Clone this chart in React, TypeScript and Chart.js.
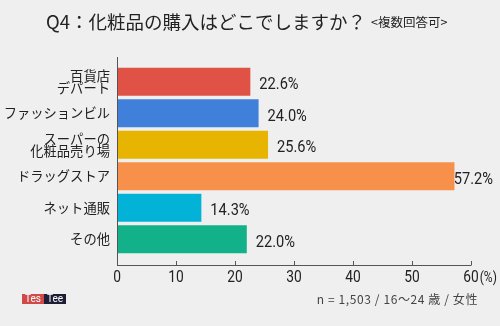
import React, { useEffect, useRef } from "react";
import { Chart, registerables } from "chart.js";

Chart.register(...registerables);

const categories: (string | string[])[] = [
  ["百貨店", "デパート"],
  "ファッションビル",
  ["スーパーの", "化粧品売り場"],
  "ドラッグストア",
  "ネット通販",
  "その他",
];
const values: number[] = [22.6, 24.0, 25.6, 57.2, 14.3, 22.0];
const barColors: string[] = ["#e05245", "#4080da", "#e8b402", "#f6904b", "#03b3d7", "#13b189"];
const xTicks: number[] = [0, 10, 20, 30, 40, 50, 60];
const titleMain = "Q4：化粧品の購入はどこでしますか？";
const titleSub = "<複数回答可>";
const footNote = "n = 1,503 / 16～24 歳 / 女性";

const JP = "'Noto Sans CJK JP', 'Noto Sans', sans-serif";
const NUM = "Roboto, 'Noto Sans', sans-serif";
const AXIS = "#555";

function condensedText(ctx: any, text: string, x: number, y: number, sx: number, align: string) {
  ctx.save();
  const w = ctx.measureText(text).width * sx;
  let left = x;
  if (align === "center") left = x - w / 2;
  else if (align === "right") left = x - w;
  ctx.translate(left, y);
  ctx.scale(sx, 1);
  ctx.textAlign = "left";
  ctx.fillText(text, 0, 0);
  ctx.restore();
  return w;
}

const decor = {
  id: "decor",
  beforeDraw(chart: any) {
    const ctx = chart.ctx;
    ctx.save();
    ctx.fillStyle = "#efefef";
    ctx.fillRect(0, 0, chart.width, chart.height);
    ctx.restore();
  },
  afterDatasetsDraw(chart: any) {
    const ctx = chart.ctx;
    const x = chart.scales.x;
    const area = chart.chartArea;
    ctx.save();
    // value labels
    const meta = chart.getDatasetMeta(0);
    ctx.font = `17px ${NUM}`;
    ctx.fillStyle = "#222";
    ctx.textBaseline = "middle";
    meta.data.forEach((bar: any, i: number) => {
      const t = values[i].toFixed(1) + "%";
      const w = ctx.measureText(t).width * 0.86;
      const lx = Math.min(bar.x + 9, chart.width - 7 - w);
      condensedText(ctx, t, lx, bar.y + 3, 0.86, "left");
    });
    // axes
    const axisY = area.bottom + 10;
    const x0 = x.getPixelForValue(0);
    ctx.strokeStyle = AXIS;
    ctx.lineWidth = 1;
    ctx.beginPath();
    ctx.moveTo(Math.round(x0) + 0.5, area.top - 9);
    ctx.lineTo(Math.round(x0) + 0.5, axisY);
    ctx.moveTo(x0, axisY + 0.5);
    ctx.lineTo(x.getPixelForValue(xTicks[xTicks.length - 1]) + 0.5, axisY + 0.5);
    xTicks.forEach((v) => {
      const px = Math.round(x.getPixelForValue(v)) + 0.5;
      ctx.moveTo(px, axisY - 4);
      ctx.lineTo(px, axisY);
    });
    ctx.stroke();
    // tick labels
    ctx.fillStyle = "#222";
    ctx.textBaseline = "middle";
    xTicks.forEach((v, i) => {
      const px = x.getPixelForValue(v);
      const t = String(v);
      ctx.font = `16px ${NUM}`;
      const w = condensedText(ctx, t, px, axisY + 13, 0.86, "center");
      if (i === xTicks.length - 1) {
        ctx.font = `14px ${NUM}`;
        condensedText(ctx, "(%)", px + w / 2 + 1, axisY + 13, 0.86, "left");
      }
    });
    // title
    ctx.textAlign = "left";
    ctx.textBaseline = "middle";
    ctx.fillStyle = "#222";
    ctx.font = `18.5px ${JP}`;
    ctx.fillText(titleMain, 46, 22);
    const tw = ctx.measureText(titleMain).width;
    ctx.font = `12.5px ${JP}`;
    ctx.fillText(titleSub, 46 + tw + 5, 22);
    // footnote
    ctx.font = `12px ${JP}`;
    ctx.fillStyle = "#444";
    ctx.textAlign = "right";
    (ctx as any).letterSpacing = "0.6px";
    ctx.fillText(footNote, 478, 299);
    (ctx as any).letterSpacing = "0px";
    // logo
    ctx.fillStyle = "#cf4a48";
    ctx.fillRect(22, 294, 22, 10);
    ctx.fillStyle = "#1e1e36";
    ctx.fillRect(44, 294, 22, 10);
    ctx.fillStyle = "#fff";
    ctx.font = `10px ${NUM}`;
    ctx.textAlign = "center";
    ctx.fillText("Tes", 33, 299.5);
    ctx.fillText("Tee", 55, 299.5);
    ctx.restore();
  },
};

export default function App() {
  const ref = useRef<HTMLCanvasElement | null>(null);
  useEffect(() => {
    if (!ref.current) return;
    const chart = new Chart(ref.current, {
      type: "bar",
      data: {
        labels: categories as any,
        datasets: [
          {
            data: values,
            backgroundColor: barColors,
            borderWidth: 0,
            categoryPercentage: 1,
            barPercentage: 0.89,
          },
        ],
      },
      options: {
        indexAxis: "y",
        responsive: false,
        animation: false,
        devicePixelRatio: 1,
        layout: { padding: { top: 66, right: 29, bottom: 0, left: 0 } },
        plugins: { legend: { display: false }, tooltip: { enabled: false }, title: { display: false } },
        scales: {
          x: {
            min: 0,
            max: 60,
            grid: { display: false, drawTicks: false },
            border: { display: false },
            ticks: { display: false },
            afterFit: (s: any) => {
              s.height = 71;
            },
          },
          y: {
            grid: { display: false, drawTicks: false },
            border: { display: false },
            ticks: {
              color: "#222",
              padding: 7,
              font: { family: JP, size: 13.3, lineHeight: 0.9 },
            },
            afterFit: (s: any) => {
              s.width = 117;
            },
          },
        },
      },
      plugins: [decor],
    });
    return () => chart.destroy();
  }, []);
  return (
    <div style={{ position: "absolute", left: 0, top: 0, width: 500, height: 326, background: "#efefef" }}>
      <canvas ref={ref} width={500} height={326} style={{ display: "block" }} />
    </div>
  );
}
